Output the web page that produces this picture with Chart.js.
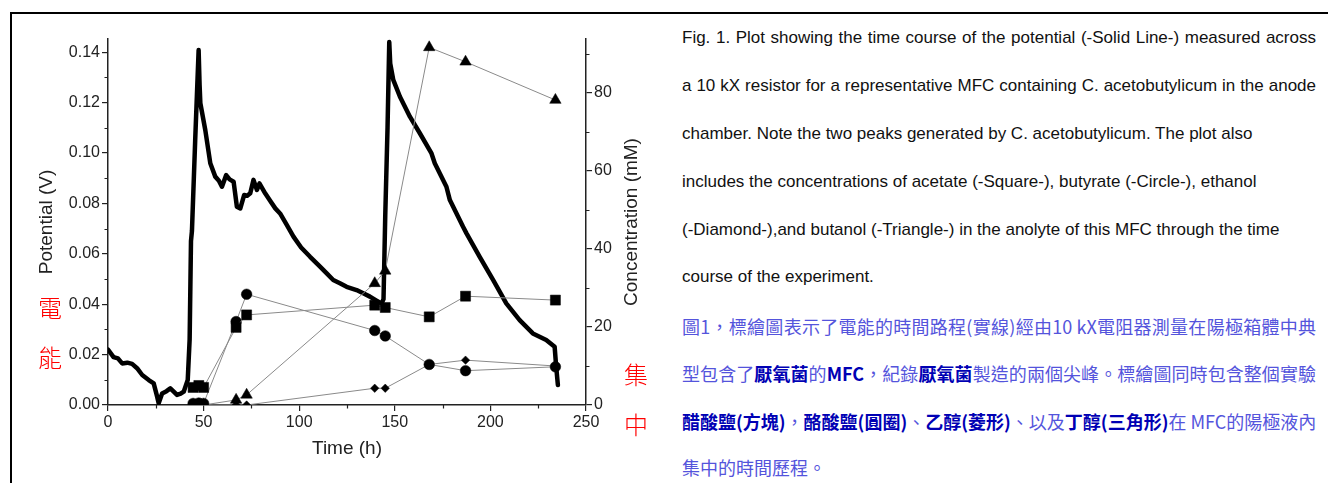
<!DOCTYPE html>
<html>
<head>
<meta charset="utf-8">
<script src="https://cdn.jsdelivr.net/npm/chart.js@4.4.0/dist/chart.umd.min.js"></script>
<style>
html, body { margin: 0; padding: 0; background: #fff; width: 1328px; height: 483px; overflow: hidden; position: relative; font-family: "Liberation Sans", Arial, sans-serif; }
#frame { position: absolute; left: 10px; top: 12px; width: 1330px; height: 480px; border-top: 2px solid #000; border-left: 2px solid #000; }
#wrap { position: absolute; left: 0; top: 0; width: 660px; height: 483px; }
.red { position: absolute; width: 30px; text-align: center; color: #f00; font: 300 24px "Noto Sans CJK TC"; line-height: 26px; }
.en { position: absolute; left: 682px; font-size: 17px; line-height: 20px; color: #111; white-space: nowrap; }
.zh { position: absolute; left: 682px; font-family: "Noto Sans CJK TC"; font-size: 18px; line-height: 24px; color: #5454dc; white-space: nowrap; }
.zh b { color: #0000b4; }
.full { width: 634px; text-align: justify; text-align-last: justify; }
</style>
</head>
<body>
<div id="frame"></div>
<div id="wrap"><canvas id="chart"></canvas></div>

<div class="red" style="left:35px;top:294px">電</div>
<div class="red" style="left:35px;top:344px">能</div>
<div class="red" style="left:621px;top:361px">集</div>
<div class="red" style="left:621px;top:411px">中</div>

<div class="en full" style="top:28px">Fig. 1. Plot showing the time course of the potential (-Solid Line-) measured across</div>
<div class="en full" style="top:76px">a 10 kX resistor for a representative MFC containing C. acetobutylicum in the anode</div>
<div class="en" style="top:124px">chamber. Note the two peaks generated by C. acetobutylicum. The plot also</div>
<div class="en" style="top:172px">includes the concentrations of acetate (-Square-), butyrate (-Circle-), ethanol</div>
<div class="en" style="top:220px">(-Diamond-),and butanol (-Triangle-) in the anolyte of this MFC through the time</div>
<div class="en" style="top:267px">course of the experiment.</div>
<div class="zh full" style="top:314px">圖1，標繪圖表示了電能的時間路程(實線)經由10 kX電阻器測量在陽極箱體中典</div>
<div class="zh full" style="top:361px">型包含了<b>厭氧菌</b>的<b>MFC</b>，紀錄<b>厭氧菌</b>製造的兩個尖峰。標繪圖同時包含整個實驗</div>
<div class="zh full" style="top:409px"><b>醋酸鹽(方塊)</b>，<b>酪酸鹽(圓圈)</b>、<b>乙醇(菱形)</b>、以及<b>丁醇(三角形)</b>在 MFC的陽極液內</div>
<div class="zh" style="top:455px">集中的時間歷程。</div>

<script>
// potential trace (solid line), left axis
const potTime = [0, 2.9, 5.2, 7.4, 10.1, 12.6, 15.2, 17.9, 21.3, 23.9, 25.7, 26.5, 28.3, 30.6, 32.6, 34.5, 36.1, 38, 39.6, 41.7,
  42.7, 43.4, 43.9, 45.6, 47.4, 47.9, 48.3, 50.9, 53.5, 56.1, 58, 59.6, 61.8, 63.6, 65.7, 67.4, 69.2, 71.2, 72.8, 74.4,
  76.1, 77.9, 79.2, 82.2, 84.8, 87.5, 90, 93.5, 97, 101, 105.7, 110.9, 114.4, 117.8, 121.3, 124.8, 130, 133.5, 137, 141.3,
  143.1, 144.1, 145, 146.2, 147.1, 147.6, 149.2, 152.7, 157.9, 163.1, 169.2, 170.9, 177, 178.8, 185.7, 187.5, 194.4, 201.4, 208.3, 215.3,
  222.2, 229.2, 233.6, 234.4, 235.3];
const potVolt = [0.022, 0.019, 0.0185, 0.0165, 0.0168, 0.0163, 0.0146, 0.0119, 0.0099, 0.0086, 0.0033, 0.0007, 0.0046, 0.0055, 0.0066, 0.0052, 0.004, 0.0045, 0.0053, 0.0099,
  0.026, 0.065, 0.069, 0.105, 0.1408, 0.127, 0.1197, 0.109, 0.0959, 0.0906, 0.089, 0.0866, 0.0912, 0.0895, 0.0886, 0.0787, 0.078, 0.0833, 0.083, 0.084,
  0.0893, 0.0853, 0.0879, 0.084, 0.081, 0.078, 0.076, 0.0715, 0.0668, 0.0625, 0.0588, 0.0549, 0.0522, 0.0496, 0.0483, 0.0469, 0.0456, 0.0443, 0.043, 0.041,
  0.0403, 0.042, 0.075, 0.11, 0.144, 0.1355, 0.129, 0.1223, 0.1144, 0.1078, 0.0998, 0.0959, 0.0866, 0.0813, 0.0707, 0.0681, 0.0588, 0.0496, 0.0403, 0.0337,
  0.0284, 0.0258, 0.0231, 0.0152, 0.0079];

// sampled concentrations (mM), right axis
const sampleTime = [44.5, 47.5, 50, 67, 72.5, 139.5, 145, 168, 187, 234];
const acetate  = [4.5, 5, 4.5, 19.9, 23.1, 25.6, 25.0, 22.6, 27.9, 26.9];
const butyrate = [0.4, 0.5, 0.4, 21.4, 28.4, 19.1, 17.7, 10.4, 8.8, 9.8];
const ethanol  = [0, 0, 0, 0, 0, 4.3, 4.3, 10.4, 11.5, 10.0];
const butanol  = [0, 0, 0, 1.3, 2.6, 31.2, 34.4, 91.7, 88.0, 78.2];

const timeTicks = [0, 50, 100, 150, 200, 250];
const timeMinor = [25, 75, 125, 175, 225];
const potTicks = [0, 0.02, 0.04, 0.06, 0.08, 0.10, 0.12, 0.14];
const potMinor = [0.01, 0.03, 0.05, 0.07, 0.09, 0.11, 0.13];
const concTicks = [0, 20, 40, 60, 80];
const concMinor = [10, 30, 50, 70, 90];

const axisColor = "#222";
const textColor = "#222";
const concTitle = "Concentration (mM)";

function pairs(xs, ys) {
  return xs.map((x, i) => ({ x: x, y: ys[i] }));
}

function concSeries(label, values, style, radius) {
  return {
    label: label,
    data: pairs(sampleTime, values),
    yAxisID: "y2",
    borderColor: "#8a8a8a",
    borderWidth: 1,
    pointStyle: style,
    pointRadius: radius,
    pointBackgroundColor: "#000",
    pointBorderColor: "#000",
    pointBorderWidth: 0.5,
    tension: 0,
    order: 1
  };
}

// minor ticks + right axis title (reads bottom to top, like the left one)
const axisExtras = {
  id: "axisExtras",
  afterDraw(chart) {
    const { ctx } = chart;
    const xs = chart.scales.x, ys = chart.scales.y, y2s = chart.scales.y2;
    ctx.save();
    ctx.strokeStyle = axisColor;
    ctx.lineWidth = 1.2;
    ctx.beginPath();
    timeMinor.forEach((v) => {
      const px = Math.round(xs.getPixelForValue(v)) + 0.5;
      ctx.moveTo(px, xs.top);
      ctx.lineTo(px, xs.top + 3.5);
    });
    potMinor.forEach((v) => {
      const py = Math.round(ys.getPixelForValue(v)) + 0.5;
      ctx.moveTo(ys.right - 3.5, py);
      ctx.lineTo(ys.right, py);
    });
    concMinor.forEach((v) => {
      const py = Math.round(y2s.getPixelForValue(v)) + 0.5;
      ctx.moveTo(y2s.left, py);
      ctx.lineTo(y2s.left + 3.5, py);
    });
    ctx.stroke();

    ctx.translate(y2s.right - 15.4, (y2s.top + y2s.bottom) / 2);
    ctx.rotate(-Math.PI / 2);
    ctx.fillStyle = textColor;
    ctx.font = "19px 'Liberation Sans'";
    ctx.textAlign = "center";
    ctx.textBaseline = "middle";
    ctx.fillText(concTitle, 0, 0);
    ctx.restore();
  }
};

function axisBase(ticks, fmt) {
  return {
    afterBuildTicks: (s) => { s.ticks = ticks.map((v) => ({ value: v })); },
    ticks: { color: textColor, font: { size: 16, family: "Liberation Sans" }, padding: 2, autoSkip: false, maxRotation: 0, callback: fmt },
    grid: { drawOnChartArea: false, drawTicks: true, tickLength: 6, color: axisColor, lineWidth: 1.2 },
    border: { display: true, color: axisColor, width: 1.5 }
  };
}

const titleFont = { size: 19, family: "Liberation Sans" };

const ctx = document.getElementById("chart").getContext("2d");
new Chart(ctx, {
  type: "line",
  data: {
    datasets: [
      concSeries("Acetate", acetate, "rect", 7.1),
      concSeries("Butyrate", butyrate, "circle", 5.3),
      concSeries("Ethanol", ethanol, "rectRot", 4.2),
      concSeries("Butanol", butanol, "triangle", 6.6),
      {
        label: "Potential",
        data: pairs(potTime, potVolt),
        yAxisID: "y",
        borderColor: "#000",
        borderWidth: 4.5,
        borderJoinStyle: "round",
        borderCapStyle: "round",
        pointRadius: 0,
        tension: 0,
        order: 5
      }
    ]
  },
  options: {
    responsive: true,
    maintainAspectRatio: false,
    animation: false,
    layout: { padding: { left: 31, right: 13, top: 39, bottom: 19 } },
    plugins: { legend: { display: false }, tooltip: { enabled: false } },
    scales: {
      x: Object.assign(axisBase(timeTicks, (v) => String(v)), {
        type: "linear", min: 0, max: 250, position: "bottom",
        afterFit: (s) => { s.height = 59; },
        title: { display: true, text: "Time (h)", color: textColor, font: titleFont, padding: { top: 4, bottom: 4 } }
      }),
      y: Object.assign(axisBase(potTicks, (v) => Number(v).toFixed(2)), {
        type: "linear", min: 0, max: 0.1452, position: "left",
        afterFit: (s) => { s.width = 77; },
        title: { display: true, text: "Potential (V)", color: textColor, font: titleFont, padding: { top: 4, bottom: 4 } }
      }),
      y2: Object.assign(axisBase(concTicks, (v) => String(v)), {
        type: "linear", min: 0, max: 93.85, position: "right",
        afterFit: (s) => { s.width = 61; },
        title: { display: false }
      })
    }
  },
  plugins: [axisExtras]
});
</script>
</body>
</html>
